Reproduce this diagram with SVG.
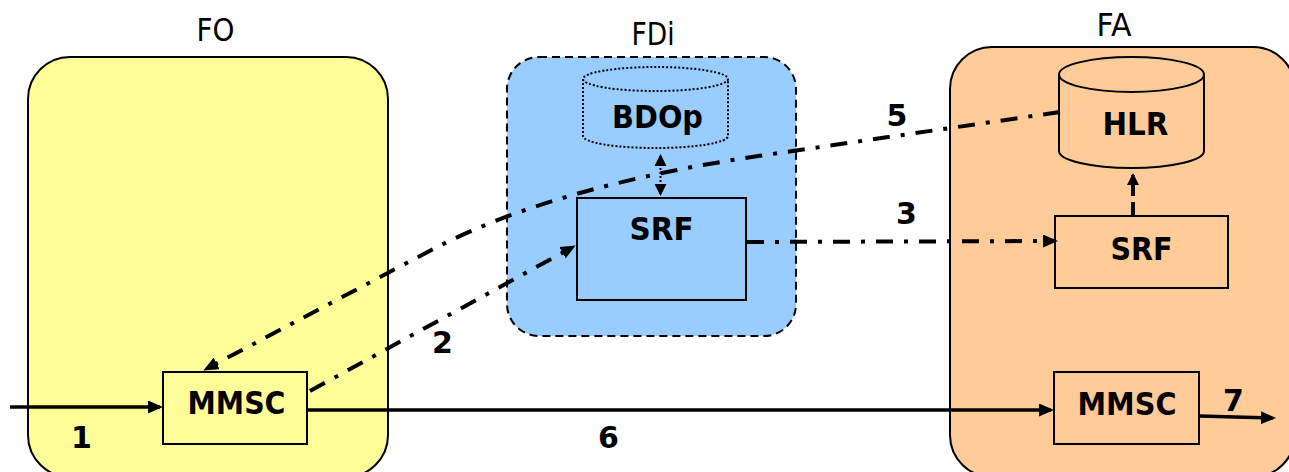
<svg xmlns="http://www.w3.org/2000/svg" width="1289" height="472" viewBox="0 0 1289 472">
<style>
.title{font-family:"DejaVu Sans",Verdana,sans-serif;font-size:32px;fill:#000;text-anchor:middle}
.lbl{font-family:"DejaVu Sans",Verdana,sans-serif;font-size:32px;font-weight:bold;fill:#000;text-anchor:middle}
.num{font-family:"DejaVu Sans",Verdana,sans-serif;font-size:30px;font-weight:bold;fill:#000;text-anchor:middle}
.box{stroke:#000;stroke-width:2}
.dd{fill:none;stroke:#000;stroke-width:4;stroke-dasharray:17 11 4 11}
.solid{fill:none;stroke:#000;stroke-width:3.5}
</style>
<defs>
<marker id="ah" markerUnits="userSpaceOnUse" viewBox="0 0 15 13" markerWidth="15" markerHeight="13" refX="12" refY="6.5" orient="auto-start-reverse">
<path d="M0,0 L15,6.5 L0,13 z" fill="#000"/>
</marker>
<marker id="ahs" markerUnits="userSpaceOnUse" viewBox="0 0 12 12" markerWidth="12" markerHeight="12" refX="10" refY="6" orient="auto-start-reverse">
<path d="M0,0 L12,6 L0,12 z" fill="#000"/>
</marker>
</defs>

<g id="FO">
<rect class="box" x="28" y="57" width="360" height="420" rx="42" fill="#FFFF99"/>
<text class="title" x="215.5" y="41" textLength="38" lengthAdjust="spacingAndGlyphs">FO</text>
</g>
<g id="FDi">
<rect x="507" y="57" width="289" height="279" rx="32" fill="#99CCFF" stroke="#000" stroke-width="2" stroke-dasharray="8 5"/>
<text class="title" x="653" y="45" textLength="43" lengthAdjust="spacingAndGlyphs">FDi</text>
</g>
<g id="FA">
<rect class="box" x="950" y="47" width="345" height="430" rx="42" fill="#FFCC99"/>
<text class="title" x="1114" y="36" textLength="35" lengthAdjust="spacingAndGlyphs">FA</text>
</g>

<g id="BDOp">
<path d="M583,79 L583,136 A72.5,12 0 0 0 728,136 L728,79" fill="#99CCFF" stroke="#000" stroke-width="2" stroke-dasharray="2 2"/>
<ellipse cx="655.5" cy="79" rx="72.5" ry="12" fill="#99CCFF" stroke="#000" stroke-width="2" stroke-dasharray="2 2"/>
<text class="lbl" x="657.5" y="128" textLength="91" lengthAdjust="spacingAndGlyphs">BDOp</text>
</g>
<g id="SRF_FDi">
<rect class="box" x="577" y="198" width="169" height="102" fill="#99CCFF"/>
<text class="lbl" x="661.5" y="240" textLength="64" lengthAdjust="spacingAndGlyphs">SRF</text>
</g>
<g id="HLR">
<path d="M1059,74.5 L1059,151 A72.5,17 0 0 0 1204,151 L1204,74.5" fill="#FFCC99" stroke="#000" stroke-width="2"/>
<ellipse cx="1131.5" cy="74.5" rx="72.5" ry="17.5" fill="#FFCC99" stroke="#000" stroke-width="2"/>
<text class="lbl" x="1135.5" y="135" textLength="66" lengthAdjust="spacingAndGlyphs">HLR</text>
</g>
<g id="SRF_FA">
<rect class="box" x="1055" y="216" width="173" height="72" fill="#FFCC99"/>
<text class="lbl" x="1141.5" y="260" textLength="62" lengthAdjust="spacingAndGlyphs">SRF</text>
</g>
<g id="MMSC_FO">
<rect class="box" x="163" y="372" width="144" height="72" fill="#FFFF99"/>
<text class="lbl" x="236.5" y="414" textLength="98" lengthAdjust="spacingAndGlyphs">MMSC</text>
</g>
<g id="MMSC_FA">
<rect class="box" x="1054" y="372" width="145" height="72" fill="#FFCC99"/>
<text class="lbl" x="1127" y="415" textLength="99" lengthAdjust="spacingAndGlyphs">MMSC</text>
</g>

<g id="connectors">
<path class="solid" d="M10,407 L160,407" marker-end="url(#ah)"/>
<path class="dd" d="M310,391 L573,247" marker-end="url(#ah)"/>
<path class="dd" d="M747,242 L1055,241" marker-end="url(#ah)"/>
<path fill="none" stroke="#000" stroke-width="4" stroke-dasharray="14 6" d="M1133,216 L1133,175" marker-end="url(#ahs)"/>
<path class="dd" d="M1060,112 L760,155.8 C640,173.3 520,203 430,250.7 L206,369" marker-end="url(#ah)"/>
<path fill="none" stroke="#000" stroke-width="2" stroke-dasharray="2 2" d="M660.5,156 L660.5,194" marker-start="url(#ahs)" marker-end="url(#ahs)"/>
<path class="solid" d="M307,410 L1051,410" marker-end="url(#ah)"/>
<path class="solid" d="M1199,416 L1273,418" marker-end="url(#ah)"/>
<text class="num" x="81.5" y="448">1</text>
<text class="num" x="442.5" y="353">2</text>
<text class="num" x="906.5" y="224">3</text>
<text class="num" x="897" y="126">5</text>
<text class="num" x="608.5" y="448">6</text>
<text class="num" x="1233.5" y="411">7</text>
</g>
</svg>
